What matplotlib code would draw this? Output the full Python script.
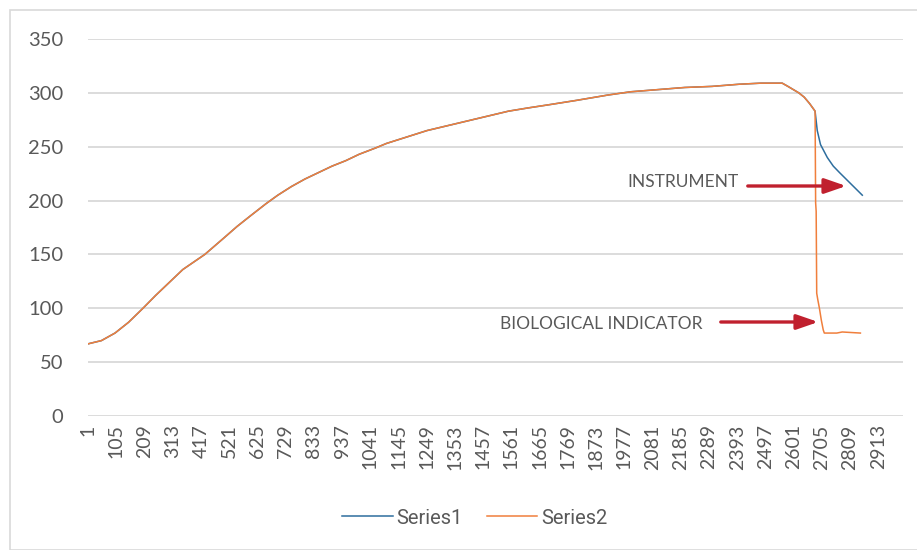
import matplotlib
matplotlib.use("Agg")
import matplotlib.pyplot as plt
from matplotlib.patches import Rectangle, FancyArrowPatch
import numpy as np

# shared rising part (category index, temperature)
common_x = [1, 50, 100, 150, 203, 250, 300, 350, 431, 500, 550, 600, 656, 700, 750, 800,
            850, 900, 950, 1000, 1062, 1100, 1150, 1200, 1250, 1300, 1350, 1400, 1450,
            1500, 1550, 1622, 1700, 1800, 1917, 2000, 2100, 2200, 2300, 2400, 2480, 2559,
            2580, 2600, 2620, 2640, 2660, 2680]
common_y = [67, 70, 77, 87, 100, 112, 124, 136, 150, 165, 176, 186, 197, 205, 213, 220,
            226, 232, 237, 243, 249, 253, 257, 261, 265, 268, 271, 274, 277,
            280, 283, 286, 289, 293, 298, 301, 303, 305, 306, 308, 309, 309,
            306, 303, 300, 296, 290, 283]
# Series1 (instrument) tail
tail1_x = [2688, 2700, 2725, 2747, 2770, 2790, 2810, 2830, 2854]
tail1_y = [265, 252, 240, 232, 226, 221, 216, 211, 205]
# Series2 (biological indicator) tail
tail2_x = [2682, 2684, 2686, 2690, 2696, 2703, 2710, 2714, 2760, 2780, 2847]
tail2_y = [198, 190, 114, 108, 100, 89, 80, 77, 77, 78, 77]

tick_labels = [str(v) for v in range(1, 2914, 104)]
y_ticks = [0, 50, 100, 150, 200, 250, 300, 350]

s1x = common_x + tail1_x
s1y = common_y + tail1_y
s2x = common_x + tail2_x
s2y = common_y + tail2_y

fig = plt.figure(figsize=(9.17, 5.5), dpi=100)
ax = fig.add_axes([88/917, 1-416/550, (903-88)/917, (416-39)/550])

blue = "#2E6E9E"
orange = "#F07F3C"
ax.plot(s1x, s1y, color=blue, lw=1.1, label="Series1", zorder=3)
ax.plot(s2x, s2y, color=orange, lw=1.1, label="Series2", zorder=4)

ax.set_xlim(0.5, 3004)
ax.set_ylim(0, 350)
ax.set_yticks(y_ticks)
ax.set_xticks([int(t) for t in tick_labels])
ax.set_xticklabels(tick_labels, rotation=90)
ax.grid(axis="y", color="#d9d9d9", lw=1.3, zorder=0)
for s in ax.spines.values():
    s.set_visible(False)
ax.tick_params(axis="both", length=0, colors="#595959")
ax.tick_params(axis="y", labelsize=14.5, pad=18)
ax.tick_params(axis="x", labelsize=14, pad=6)
for lab in ax.get_xticklabels() + ax.get_yticklabels():
    lab.set_fontfamily("Lato")

red = "#C0202E"
astyle = "-|>,head_length=13,head_width=4.5"
ax.text(627/917, 1-182/550, "INSTRUMENT", transform=fig.transFigure, fontsize=12.5,
        color="#595959", va="center", ha="left", family="Lato")
fig.patches.append(FancyArrowPatch((745/917, 1-186/550), (849/917, 1-186/550),
                                   transform=fig.transFigure, arrowstyle=astyle,
                                   color=red, lw=2.4, mutation_scale=1))
ax.text(500/917, 1-324/550, "BIOLOGICAL INDICATOR", transform=fig.transFigure, fontsize=12.5,
        color="#595959", va="center", ha="left", family="Lato")
fig.patches.append(FancyArrowPatch((718/917, 1-322/550), (821/917, 1-322/550),
                                   transform=fig.transFigure, arrowstyle=astyle,
                                   color=red, lw=2.4, mutation_scale=1))

leg = fig.legend(loc="center", bbox_to_anchor=(475/917, 1-518/550), ncol=2, frameon=False,
                 prop={"family": "Roboto", "size": 14.5}, handlelength=2.5, columnspacing=1.2,
                 handletextpad=0.2)
for t in leg.get_texts():
    t.set_color("#595959")

fig.patches.append(Rectangle((10/917, 0), 1, 1-10/550, transform=fig.transFigure,
                             fill=False, edgecolor="#d9d9d9", lw=1.2))

fig.savefig("out.png", dpi=100)
